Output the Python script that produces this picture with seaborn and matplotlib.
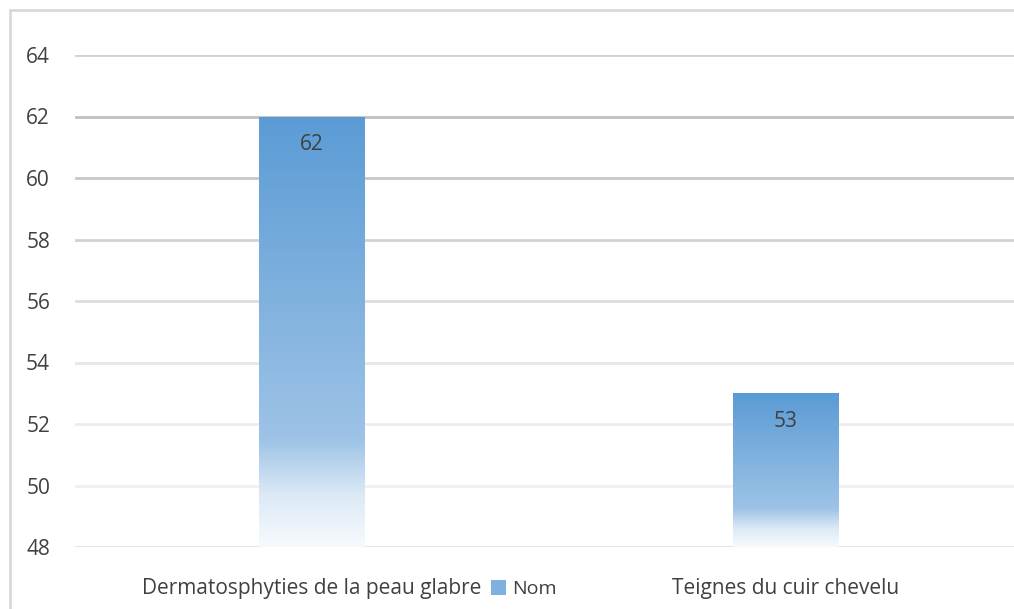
import numpy as np
import seaborn as sns
import pandas as pd
import matplotlib.pyplot as plt
from matplotlib.colors import LinearSegmentedColormap
from matplotlib.patches import Rectangle, Patch

categories = ['Dermatosphyties de la peau glabre', 'Teignes du cuir chevelu']
values = [62, 53]
series_name = 'Nom'
yticks = [48, 50, 52, 54, 56, 58, 60, 62, 64]

data = pd.DataFrame({'Type': categories, 'Cas': values, 'Serie': series_name})

sns.set_style('white')
plt.rcParams['font.family'] = ['Open Sans', 'DejaVu Sans']

fig = plt.figure(figsize=(10.14, 6.09), dpi=100)
ax = fig.add_axes([75 / 1014, 1 - 547 / 609, 1 - 75 / 1014, (547 - 55) / 609])

# outer chart border (only left and top are visible)
fig.patches.append(Rectangle((10 / 1014, -0.1), 1.2, 1 - 10 / 609 + 0.1,
                             transform=fig.transFigure, fill=False,
                             edgecolor='#d9d9d9', linewidth=2, zorder=0))

sns.barplot(data=data, x='Type', y='Cas', hue='Serie', palette=['#5b9bd5'],
            width=106 / 474, ax=ax, legend=False, zorder=3)

ax.set_ylim(48, 64)
ax.set_xlim(-0.5, -0.5 + 939 / 474)

# gridlines fade toward the bottom
grid_colors = ['#e0e0e0', '#f0f0f0', '#ececec', '#e6e6e6', '#dedede',
               '#d2d2d2', '#c8c8c8', '#c0c0c0', '#d0d0d0']
for yv, c in zip(yticks, grid_colors):
    ax.axhline(yv, color=c, linewidth=2, zorder=1)

# gradient fill for bars
cmap = LinearSegmentedColormap.from_list(
    'grad', [(0.0, '#f7fafd'), (0.12, '#dce9f6'), (0.25, '#9dc3e6'),
             (1.0, '#5b9bd5')])
grad = np.linspace(0, 1, 256).reshape(-1, 1)
for bar in ax.patches:
    x0, y0 = bar.get_x(), bar.get_y()
    w, h = bar.get_width(), bar.get_height()
    ymin = 48
    im = ax.imshow(grad, cmap=cmap, aspect='auto', origin='lower',
                   extent=[x0, x0 + w, ymin, y0 + h], zorder=3)
    im.set_clip_path(bar)
    bar.set_facecolor('none')
    bar.set_edgecolor('none')

for i, v in enumerate(values):
    ax.annotate(str(v), (i, v), xytext=(0, -28 * 0.72), textcoords='offset points',
                ha='center', va='center', fontsize=15, color='#404040', zorder=5)

ax.set_yticks(yticks)
ax.set_yticklabels([str(t) for t in yticks], fontsize=15, color='#404040')
ax.tick_params(axis='y', length=0, pad=18)
ax.tick_params(axis='x', length=0, pad=22, labelsize=15, labelcolor='#404040')
ax.set_xlabel('')
ax.set_ylabel('')
for s in ax.spines.values():
    s.set_visible(False)

handle = Patch(facecolor='#7eb1e0', edgecolor='none')
fig.legend([handle], [series_name], loc='lower left',
           bbox_to_anchor=(481 / 1014, 1 / 609), frameon=False,
           fontsize=14, labelcolor='#404040', handlelength=0.8,
           handleheight=0.8, handletextpad=0.3, borderpad=0)

fig.savefig('out.png', dpi=100)
